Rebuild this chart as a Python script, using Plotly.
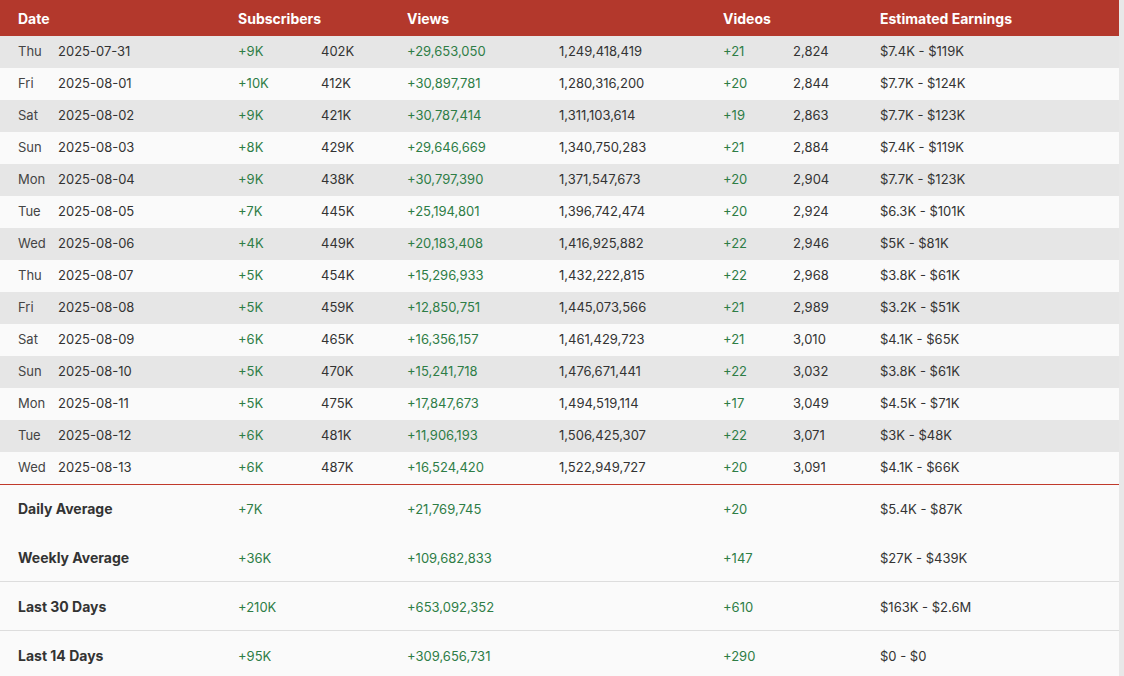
import plotly.graph_objects as go

# ---------------- data ----------------
headers = ["Date", "Subscribers", "Views", "Videos", "Estimated Earnings"]

days = ["Thu", "Fri", "Sat", "Sun", "Mon", "Tue", "Wed",
        "Thu", "Fri", "Sat", "Sun", "Mon", "Tue", "Wed"]
dates = ["2025-07-31", "2025-08-01", "2025-08-02", "2025-08-03", "2025-08-04",
         "2025-08-05", "2025-08-06", "2025-08-07", "2025-08-08", "2025-08-09",
         "2025-08-10", "2025-08-11", "2025-08-12", "2025-08-13"]
sub_delta = ["+9K", "+10K", "+9K", "+8K", "+9K", "+7K", "+4K",
             "+5K", "+5K", "+6K", "+5K", "+5K", "+6K", "+6K"]
sub_total = ["402K", "412K", "421K", "429K", "438K", "445K", "449K",
             "454K", "459K", "465K", "470K", "475K", "481K", "487K"]
view_delta = ["+29,653,050", "+30,897,781", "+30,787,414", "+29,646,669",
              "+30,797,390", "+25,194,801", "+20,183,408", "+15,296,933",
              "+12,850,751", "+16,356,157", "+15,241,718", "+17,847,673",
              "+11,906,193", "+16,524,420"]
view_total = ["1,249,418,419", "1,280,316,200", "1,311,103,614", "1,340,750,283",
              "1,371,547,673", "1,396,742,474", "1,416,925,882", "1,432,222,815",
              "1,445,073,566", "1,461,429,723", "1,476,671,441", "1,494,519,114",
              "1,506,425,307", "1,522,949,727"]
vid_delta = ["+21", "+20", "+19", "+21", "+20", "+20", "+22",
             "+22", "+21", "+21", "+22", "+17", "+22", "+20"]
vid_total = ["2,824", "2,844", "2,863", "2,884", "2,904", "2,924", "2,946",
             "2,968", "2,989", "3,010", "3,032", "3,049", "3,071", "3,091"]
earnings = ["$7.4K - $119K", "$7.7K - $124K", "$7.7K - $123K", "$7.4K - $119K",
            "$7.7K - $123K", "$6.3K - $101K", "$5K - $81K", "$3.8K - $61K",
            "$3.2K - $51K", "$4.1K - $65K", "$3.8K - $61K", "$4.5K - $71K",
            "$3K - $48K", "$4.1K - $66K"]

sum_labels = ["Daily Average", "Weekly Average", "Last 30 Days", "Last 14 Days"]
sum_subs = ["+7K", "+36K", "+210K", "+95K"]
sum_views = ["+21,769,745", "+109,682,833", "+653,092,352", "+309,656,731"]
sum_videos = ["+20", "+147", "+610", "+290"]
sum_earn = ["$5.4K - $87K", "$27K - $439K", "$163K - $2.6M", "$0 - $0"]

# ---------------- style ----------------
W, H = 1124, 676
TW = 1119
RED = "#B3382C"
GRAY_ROW = "#E6E6E6"
WHITE_ROW = "#FAFAFA"
CLEAR = "rgba(0,0,0,0)"
TXT = "#333333"
GREEN = "#2E7D46"
FONT = "Inter"

HEAD_H = 36
ROW_H = 32
SUM_H = 49
DY_HEAD = 2
DY_BODY = 2
DY_LABEL = 7
DY_VAL = 11


def py(px):
    return 1 - px / H


def px_x(px):
    return px / W


def hidden_header(ncol):
    return dict(values=[""] * ncol, height=0, fill_color=CLEAR,
                line=dict(color=CLEAR, width=0))


fig = go.Figure()
xdom = [0, px_x(TW)]

# ---- header: background + text ----
head_widths = [10, 220, 169, 316, 157, 247]
fig.add_trace(go.Table(
    domain=dict(x=xdom, y=[py(HEAD_H), 1]),
    columnwidth=head_widths,
    header=dict(values=[""] * len(head_widths), fill_color=RED,
                line=dict(color=RED, width=0), height=HEAD_H),
    cells=dict(values=[[] for _ in head_widths], height=1,
               fill_color=CLEAR, line=dict(color=CLEAR, width=0)),
))
fig.add_trace(go.Table(
    domain=dict(x=xdom, y=[py(HEAD_H + DY_HEAD), py(DY_HEAD)]),
    columnwidth=head_widths,
    header=dict(values=[""] + ["<b>%s</b>" % h for h in headers],
                fill_color=CLEAR, line=dict(color=CLEAR, width=0),
                font=dict(family=FONT, size=14, color="white"),
                align="left", height=HEAD_H - 1),
    cells=dict(values=[[] for _ in head_widths], height=1,
               fill_color=CLEAR, line=dict(color=CLEAR, width=0)),
))

# ---- body: background + text ----
n = len(days)
row_fill = [GRAY_ROW if i % 2 == 0 else WHITE_ROW for i in range(n)]
body_widths = [10, 40, 180, 83, 86, 152, 164, 70, 87, 247]
body_cols = [[""] * n, days, dates, sub_delta, sub_total, view_delta,
             view_total, vid_delta, vid_total, earnings]
body_colors = [TXT, "#444444", TXT, GREEN, TXT, GREEN, TXT, GREEN, TXT, TXT]
top = HEAD_H
bot = HEAD_H + n * ROW_H

fig.add_trace(go.Table(
    domain=dict(x=xdom, y=[py(bot), py(top)]),
    columnwidth=body_widths,
    header=hidden_header(len(body_widths)),
    cells=dict(values=[[""] * n for _ in body_widths], height=ROW_H,
               fill_color=[row_fill] * len(body_widths),
               line=dict(color=[row_fill] * len(body_widths), width=0)),
))
fig.add_trace(go.Table(
    domain=dict(x=xdom, y=[py(bot + DY_BODY), py(top + DY_BODY)]),
    columnwidth=body_widths,
    header=hidden_header(len(body_widths)),
    cells=dict(values=body_cols, height=ROW_H,
               fill_color=CLEAR, line=dict(color=CLEAR, width=0),
               font=dict(family=FONT, size=13, color=body_colors),
               align="left"),
))

# ---- summary rows ----
lab_widths = [10, 220]
val_widths = [169, 316, 157, 247]
split = sum(lab_widths)
for i in range(len(sum_labels)):
    row_top = bot + 1 + i * SUM_H
    # label
    t = row_top + DY_LABEL
    b = min(t + SUM_H, H)
    fig.add_trace(go.Table(
        domain=dict(x=[0, px_x(split)], y=[py(b), py(t)]),
        columnwidth=lab_widths,
        header=hidden_header(2),
        cells=dict(values=[[""], ["<b>%s</b>" % sum_labels[i]]],
                   height=b - t, fill_color=CLEAR,
                   line=dict(color=CLEAR, width=0),
                   font=dict(family=FONT, size=14, color=TXT),
                   align="left"),
    ))
    # values
    t = row_top + DY_VAL
    b = min(t + SUM_H, H)
    fig.add_trace(go.Table(
        domain=dict(x=[px_x(split), px_x(TW)], y=[py(b), py(t)]),
        columnwidth=val_widths,
        header=hidden_header(4),
        cells=dict(values=[[sum_subs[i]], [sum_views[i]], [sum_videos[i]],
                           [sum_earn[i]]],
                   height=b - t, fill_color=CLEAR,
                   line=dict(color=CLEAR, width=0),
                   font=dict(family=FONT, size=13,
                             color=[GREEN, GREEN, GREEN, TXT]),
                   align="left"),
    ))

shapes = [
    dict(type="line", xref="paper", yref="paper", x0=0, x1=px_x(TW),
         y0=py(bot + 0.5), y1=py(bot + 0.5), line=dict(color="#C0392B", width=1)),
    dict(type="line", xref="paper", yref="paper", x0=0, x1=px_x(TW),
         y0=py(581.5), y1=py(581.5), line=dict(color="#DDDDDD", width=1)),
    dict(type="line", xref="paper", yref="paper", x0=0, x1=px_x(TW),
         y0=py(630.5), y1=py(630.5), line=dict(color="#DDDDDD", width=1)),
    dict(type="rect", xref="paper", yref="paper", x0=px_x(TW), x1=1, y0=0, y1=1,
         fillcolor="#E8E8E8", line=dict(width=0)),
]

fig.update_layout(
    width=W, height=H,
    margin=dict(l=0, r=0, t=0, b=0),
    paper_bgcolor=WHITE_ROW,
    shapes=shapes,
    showlegend=False,
)

fig.write_html(
    "out.html",
    config={"displayModeBar": False},
    post_script="document.body.style.margin='0';document.body.style.overflow='hidden';",
)
